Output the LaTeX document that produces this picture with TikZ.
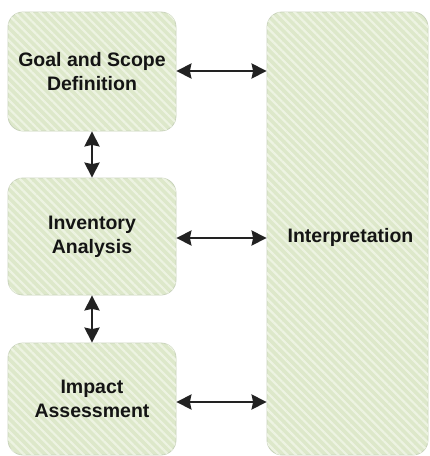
\documentclass[tikz,border=0pt]{standalone}
\usepackage{fontspec}
\setmainfont{Liberation Sans}
\usetikzlibrary{arrows.meta,patterns.meta}
\definecolor{boxfill}{HTML}{DDE8CA}
\definecolor{boxstripe}{HTML}{EDF3E2}
\definecolor{boxedge}{HTML}{C9D3BC}
\definecolor{txt}{HTML}{141414}
\definecolor{arr}{HTML}{222222}
\tikzset{
  phase/.style={draw=boxedge, line width=0.8pt, rounded corners=15pt, fill=boxfill,
    postaction={pattern={Lines[angle=-45,distance=6pt,line width=2.2pt]}, pattern color=boxstripe},
    text=txt, font=\bfseries\fontsize{19.5}{24}\selectfont, align=center, inner sep=0pt},
  tip/.tip={Stealth[length=15pt,width=15pt,inset=1.5pt]},
  link/.style={arr, line width=2.4pt, tip-tip}
}
\begin{document}
\begin{tikzpicture}[x=1pt,y=-1pt]
\useasboundingbox (0,0) rectangle (430,456);
\node[phase, minimum width=168pt, minimum height=119pt] (goal) at (92,71.5) {Goal and Scope\\Definition};
\node[phase, minimum width=168pt, minimum height=117pt] (inv) at (92,236.5) {Inventory\\Analysis};
\node[phase, minimum width=168pt, minimum height=112pt] (imp) at (92,399) {Impact\\Assessment};
\node[phase, minimum width=161pt, minimum height=443pt] (interp) at (347.5,233.5) {};
\node[text=txt, font=\bfseries\fontsize{19.5}{24}\selectfont] (interpt) at (350.5,237) {Interpretation};
\draw[link] (goal.east |- 0,71) -- (interp.west |- 0,71);
\draw[link] (inv.east |- 0,238) -- (interp.west |- 0,238);
\draw[link] (imp.east |- 0,402) -- (interp.west |- 0,402);
\draw[link] (goal.south) -- (inv.north);
\draw[link] (inv.south) -- (imp.north);
\end{tikzpicture}
\end{document}
